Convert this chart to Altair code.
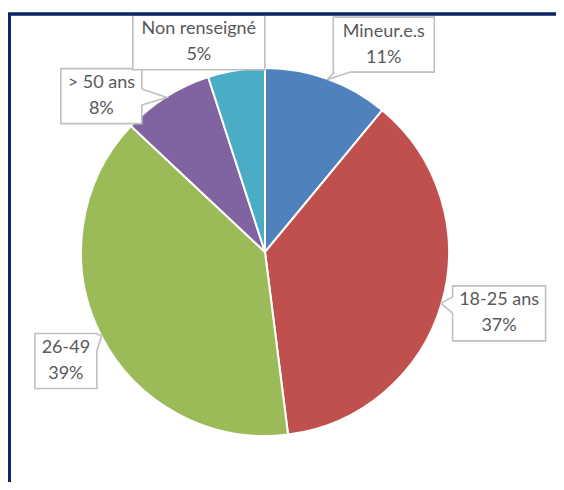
import math
import altair as alt
import pandas as pd

# ---- data ----
categories = ["Mineur.e.s", "18-25 ans", "26-49", "> 50 ans", "Non renseigné"]
shares = [11, 37, 39, 8, 5]
colors = ["#4F81BD", "#C0504D", "#9BBB59", "#8064A2", "#4BACC6"]

# ---- layout (styles / positions) ----
W, H = 548, 474
CX, CY, R = 257, 244, 184
label_radius = [239, 242, 227, 226, 220]
label_shift = [10, -1.5, -1.7, -14, -8.5]
box_w = [101, 93, 62, 81, 132]
box_h = 55
TEXT_COLOR = "#595959"
BOX_COLOR = "#BFBFBF"
FRAME_COLOR = "#0E2469"

total = sum(shares)
pie_rows, box_rows, ptr_rows, erase_rows = [], [], [], []
cum = 0
for i, (cat, v) in enumerate(zip(categories, shares)):
    mid = (cum + v / 2) / total * 2 * math.pi
    cum += v
    pie_rows.append({"category": cat, "share": v, "order": i})
    a = mid + math.radians(label_shift[i])
    lx = CX + label_radius[i] * math.sin(a)
    ly = CY - label_radius[i] * math.cos(a)
    bw, bh = box_w[i], box_h
    box_rows.append({
        "category": cat, "x": lx, "y": ly,
        "x0": lx - bw / 2, "x1": lx + bw / 2,
        "y0": ly - bh / 2, "y1": ly + bh / 2,
        "text": f"{cat}\n{round(v / total * 100)}%",
    })
    # pointer toward the slice edge at its mid angle
    tx = CX + (R - 1) * math.sin(mid)
    ty = CY - (R - 1) * math.cos(mid)
    dx, dy = tx - lx, ty - ly
    t_x = (bw / 2) / abs(dx) if dx else float("inf")
    t_y = (bh / 2) / abs(dy) if dy else float("inf")
    if t_x < t_y:
        px, py = lx + dx * t_x, ly + dy * t_x
        b1 = (px, max(ly - bh / 2 + 1, min(py - 8, ly + bh / 2 - 17)))
        b2 = (px, b1[1] + 16)
    else:
        px, py = lx + dx * t_y, ly + dy * t_y
        b1 = (max(lx - bw / 2 + 1, min(px - 8, lx + bw / 2 - 17)), py)
        b2 = (b1[0] + 16, py)
    if math.hypot(tx - px, ty - py) > 4:
        for k, (xx, yy) in enumerate([b1, (tx, ty), b2]):
            ptr_rows.append({"category": cat, "k": k, "x": xx, "y": yy})
        for k, (xx, yy) in enumerate([b1, b2]):
            erase_rows.append({"category": cat, "k": k, "x": xx, "y": yy})

pie_df = pd.DataFrame(pie_rows)
box_df = pd.DataFrame(box_rows)
ptr_df = pd.DataFrame(ptr_rows)
erase_df = pd.DataFrame(erase_rows)

xs = alt.Scale(domain=[0, W], range=[0, W], nice=False, zero=False)
ys = alt.Scale(domain=[0, H], range=[0, H], nice=False, zero=False)

pie = alt.Chart(pie_df).mark_arc(radius=R, stroke="white", strokeWidth=2).encode(
    theta=alt.Theta("share:Q", stack=True),
    color=alt.Color("category:N", scale=alt.Scale(domain=categories, range=colors), legend=None),
    order=alt.Order("order:Q"),
    x=alt.value(CX),
    y=alt.value(CY),
)

boxes = alt.Chart(box_df).mark_rect(fill="white", stroke=BOX_COLOR, strokeWidth=1.6).encode(
    x=alt.X("x0:Q", scale=xs, axis=None),
    x2="x1:Q",
    y=alt.Y("y0:Q", scale=ys, axis=None),
    y2="y1:Q",
)

erase = alt.Chart(erase_df).mark_line(color="white", strokeWidth=2.6).encode(
    x=alt.X("x:Q", scale=xs, axis=None),
    y=alt.Y("y:Q", scale=ys, axis=None),
    detail="category:N",
    order="k:Q",
)

pointers = alt.Chart(ptr_df).mark_line(color=BOX_COLOR, strokeWidth=1.6).encode(
    x=alt.X("x:Q", scale=xs, axis=None),
    y=alt.Y("y:Q", scale=ys, axis=None),
    detail="category:N",
    order="k:Q",
)

texts = alt.Chart(box_df).mark_text(
    font="Lato", fontSize=18, color=TEXT_COLOR, lineBreak="\n", lineHeight=26,
    align="center", baseline="middle", dy=-13,
).encode(
    x=alt.X("x:Q", scale=xs, axis=None),
    y=alt.Y("y:Q", scale=ys, axis=None),
    text="text:N",
)

frame_top = alt.Chart(pie_df).mark_rule(color=FRAME_COLOR, strokeWidth=2.5).encode(
    x=alt.value(0), x2=alt.value(W), y=alt.value(6)
)
frame_left = alt.Chart(pie_df).mark_rule(color=FRAME_COLOR, strokeWidth=2.5).encode(
    x=alt.value(1.5), y=alt.value(5), y2=alt.value(H)
)

chart = alt.layer(pie, boxes, erase, pointers, texts, frame_top, frame_left).properties(
    width=W, height=H, padding=0, background="white",
    autosize=alt.AutoSizeParams(type="none"),
).configure_view(stroke=None)

chart.save("out.html", embed_options={"renderer": "svg", "actions": False})
